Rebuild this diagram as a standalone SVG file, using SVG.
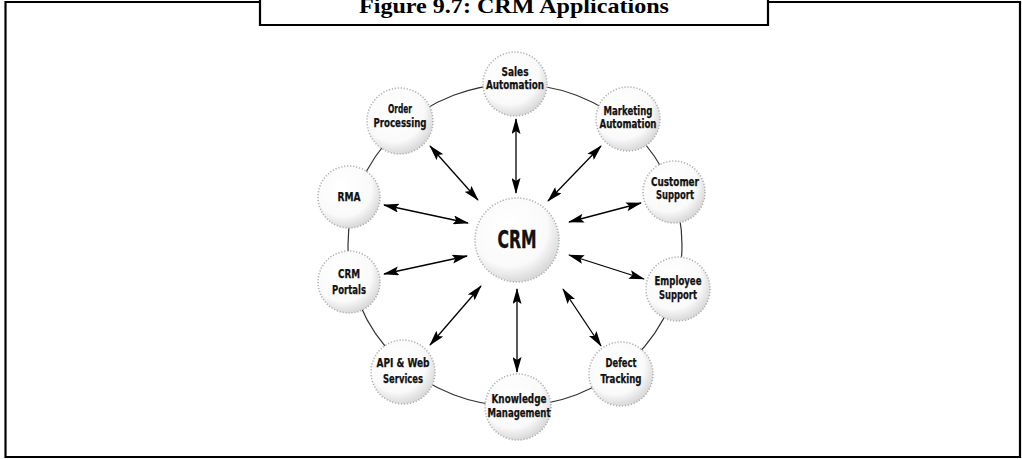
<svg xmlns="http://www.w3.org/2000/svg" width="1022" height="459" viewBox="0 0 1022 459">
<style>
.frame{fill:none;stroke:#000;stroke-width:2.2}
.ring{fill:none;stroke:#333;stroke-width:1.2}
.ball{fill:url(#g);stroke:#b0b0b0;stroke-width:1.6;stroke-dasharray:1.2 1.8}
.lbl{font-family:"DejaVu Sans Condensed","DejaVu Sans",sans-serif;font-weight:bold;font-size:12px;fill:#111;stroke:#111;stroke-width:0.25;text-anchor:middle}
.big{font-size:24px;stroke-width:0.4}
.arr{stroke:#000;stroke-width:1.3;fill:none;marker-start:url(#ah);marker-end:url(#ah)}
.title{font-family:"Liberation Serif",serif;font-weight:bold;font-size:21px;fill:#000;text-anchor:middle}
</style>
<defs>
<radialGradient id="g" cx="0.42" cy="0.38" r="0.65" fx="0.38" fy="0.32">
<stop offset="0" stop-color="#fff"/>
<stop offset="0.7" stop-color="#fafafa"/>
<stop offset="1" stop-color="#d4d4d4"/>
</radialGradient>
<marker id="ah" viewBox="0 0 16 9" refX="15" refY="4.5" markerWidth="16" markerHeight="9" markerUnits="userSpaceOnUse" orient="auto-start-reverse">
<path d="M0,0 L16,4.5 L0,9 L3,4.5 Z" fill="#000"/>
</marker>
</defs>
<rect width="1022" height="459" fill="#fff"/>
<g id="frame">
<path class="frame" d="M260,2 H5.5 V457 H1020 V2 H768"/>
<path class="frame" d="M260,-2 V25 H768 V-2"/>
<text class="title" x="514" y="13" textLength="310" lengthAdjust="spacingAndGlyphs">Figure 9.7: CRM Applications</text>
</g>
<ellipse class="ring" cx="515" cy="245" rx="167" ry="161"/>
<g id="connectors">
<line class="arr" x1="516" y1="193" x2="516" y2="119"/>
<line class="arr" x1="548" y1="201" x2="601" y2="146"/>
<line class="arr" x1="569" y1="222" x2="641" y2="203"/>
<line class="arr" x1="569" y1="255" x2="644" y2="279"/>
<line class="arr" x1="563" y1="289" x2="601" y2="346"/>
<line class="arr" x1="517" y1="289" x2="517" y2="372"/>
<line class="arr" x1="481" y1="286" x2="430" y2="345"/>
<line class="arr" x1="467" y1="256" x2="384" y2="274"/>
<line class="arr" x1="468" y1="223" x2="384" y2="205"/>
<line class="arr" x1="478" y1="200" x2="430" y2="146"/>
</g>
<g id="n-crm"><circle class="ball" cx="517" cy="240" r="42"/><text class="lbl big" x="517" y="248" textLength="39" lengthAdjust="spacingAndGlyphs">CRM</text></g>
<g id="n-sales"><circle class="ball" cx="515" cy="84" r="32"/><text class="lbl" x="515" y="76" textLength="27" lengthAdjust="spacingAndGlyphs">Sales</text><text class="lbl" x="515" y="89" textLength="58" lengthAdjust="spacingAndGlyphs">Automation</text></g>
<g id="n-marketing"><circle class="ball" cx="628" cy="119" r="32"/><text class="lbl" x="628" y="115" textLength="49" lengthAdjust="spacingAndGlyphs">Marketing</text><text class="lbl" x="628" y="128" textLength="57" lengthAdjust="spacingAndGlyphs">Automation</text></g>
<g id="n-customer"><circle class="ball" cx="674" cy="192" r="31"/><text class="lbl" x="675" y="186" textLength="48" lengthAdjust="spacingAndGlyphs">Customer</text><text class="lbl" x="675" y="199" textLength="38" lengthAdjust="spacingAndGlyphs">Support</text></g>
<g id="n-employee"><circle class="ball" cx="678" cy="289" r="32"/><text class="lbl" x="678" y="285" textLength="47" lengthAdjust="spacingAndGlyphs">Employee</text><text class="lbl" x="678" y="299" textLength="38" lengthAdjust="spacingAndGlyphs">Support</text></g>
<g id="n-defect"><circle class="ball" cx="621" cy="374" r="32"/><text class="lbl" x="621" y="367" textLength="31" lengthAdjust="spacingAndGlyphs">Defect</text><text class="lbl" x="621" y="383" textLength="41" lengthAdjust="spacingAndGlyphs">Tracking</text></g>
<g id="n-knowledge"><circle class="ball" cx="518" cy="407" r="33"/><text class="lbl" x="519" y="403" textLength="55" lengthAdjust="spacingAndGlyphs">Knowledge</text><text class="lbl" x="519" y="417" textLength="63" lengthAdjust="spacingAndGlyphs">Management</text></g>
<g id="n-api"><circle class="ball" cx="403" cy="372" r="32"/><text class="lbl" x="403" y="367" textLength="53" lengthAdjust="spacingAndGlyphs">API &amp; Web</text><text class="lbl" x="403" y="383" textLength="40" lengthAdjust="spacingAndGlyphs">Services</text></g>
<g id="n-portals"><circle class="ball" cx="349" cy="282" r="31"/><text class="lbl" x="349" y="278" textLength="22" lengthAdjust="spacingAndGlyphs">CRM</text><text class="lbl" x="349" y="294" textLength="34" lengthAdjust="spacingAndGlyphs">Portals</text></g>
<g id="n-rma"><circle class="ball" cx="349" cy="197" r="31"/><text class="lbl" x="349" y="201" textLength="23" lengthAdjust="spacingAndGlyphs">RMA</text></g>
<g id="n-order"><circle class="ball" cx="400" cy="121" r="33"/><text class="lbl" x="400" y="113" textLength="24" lengthAdjust="spacingAndGlyphs">Order</text><text class="lbl" x="400" y="127" textLength="53" lengthAdjust="spacingAndGlyphs">Processing</text></g>
</svg>
